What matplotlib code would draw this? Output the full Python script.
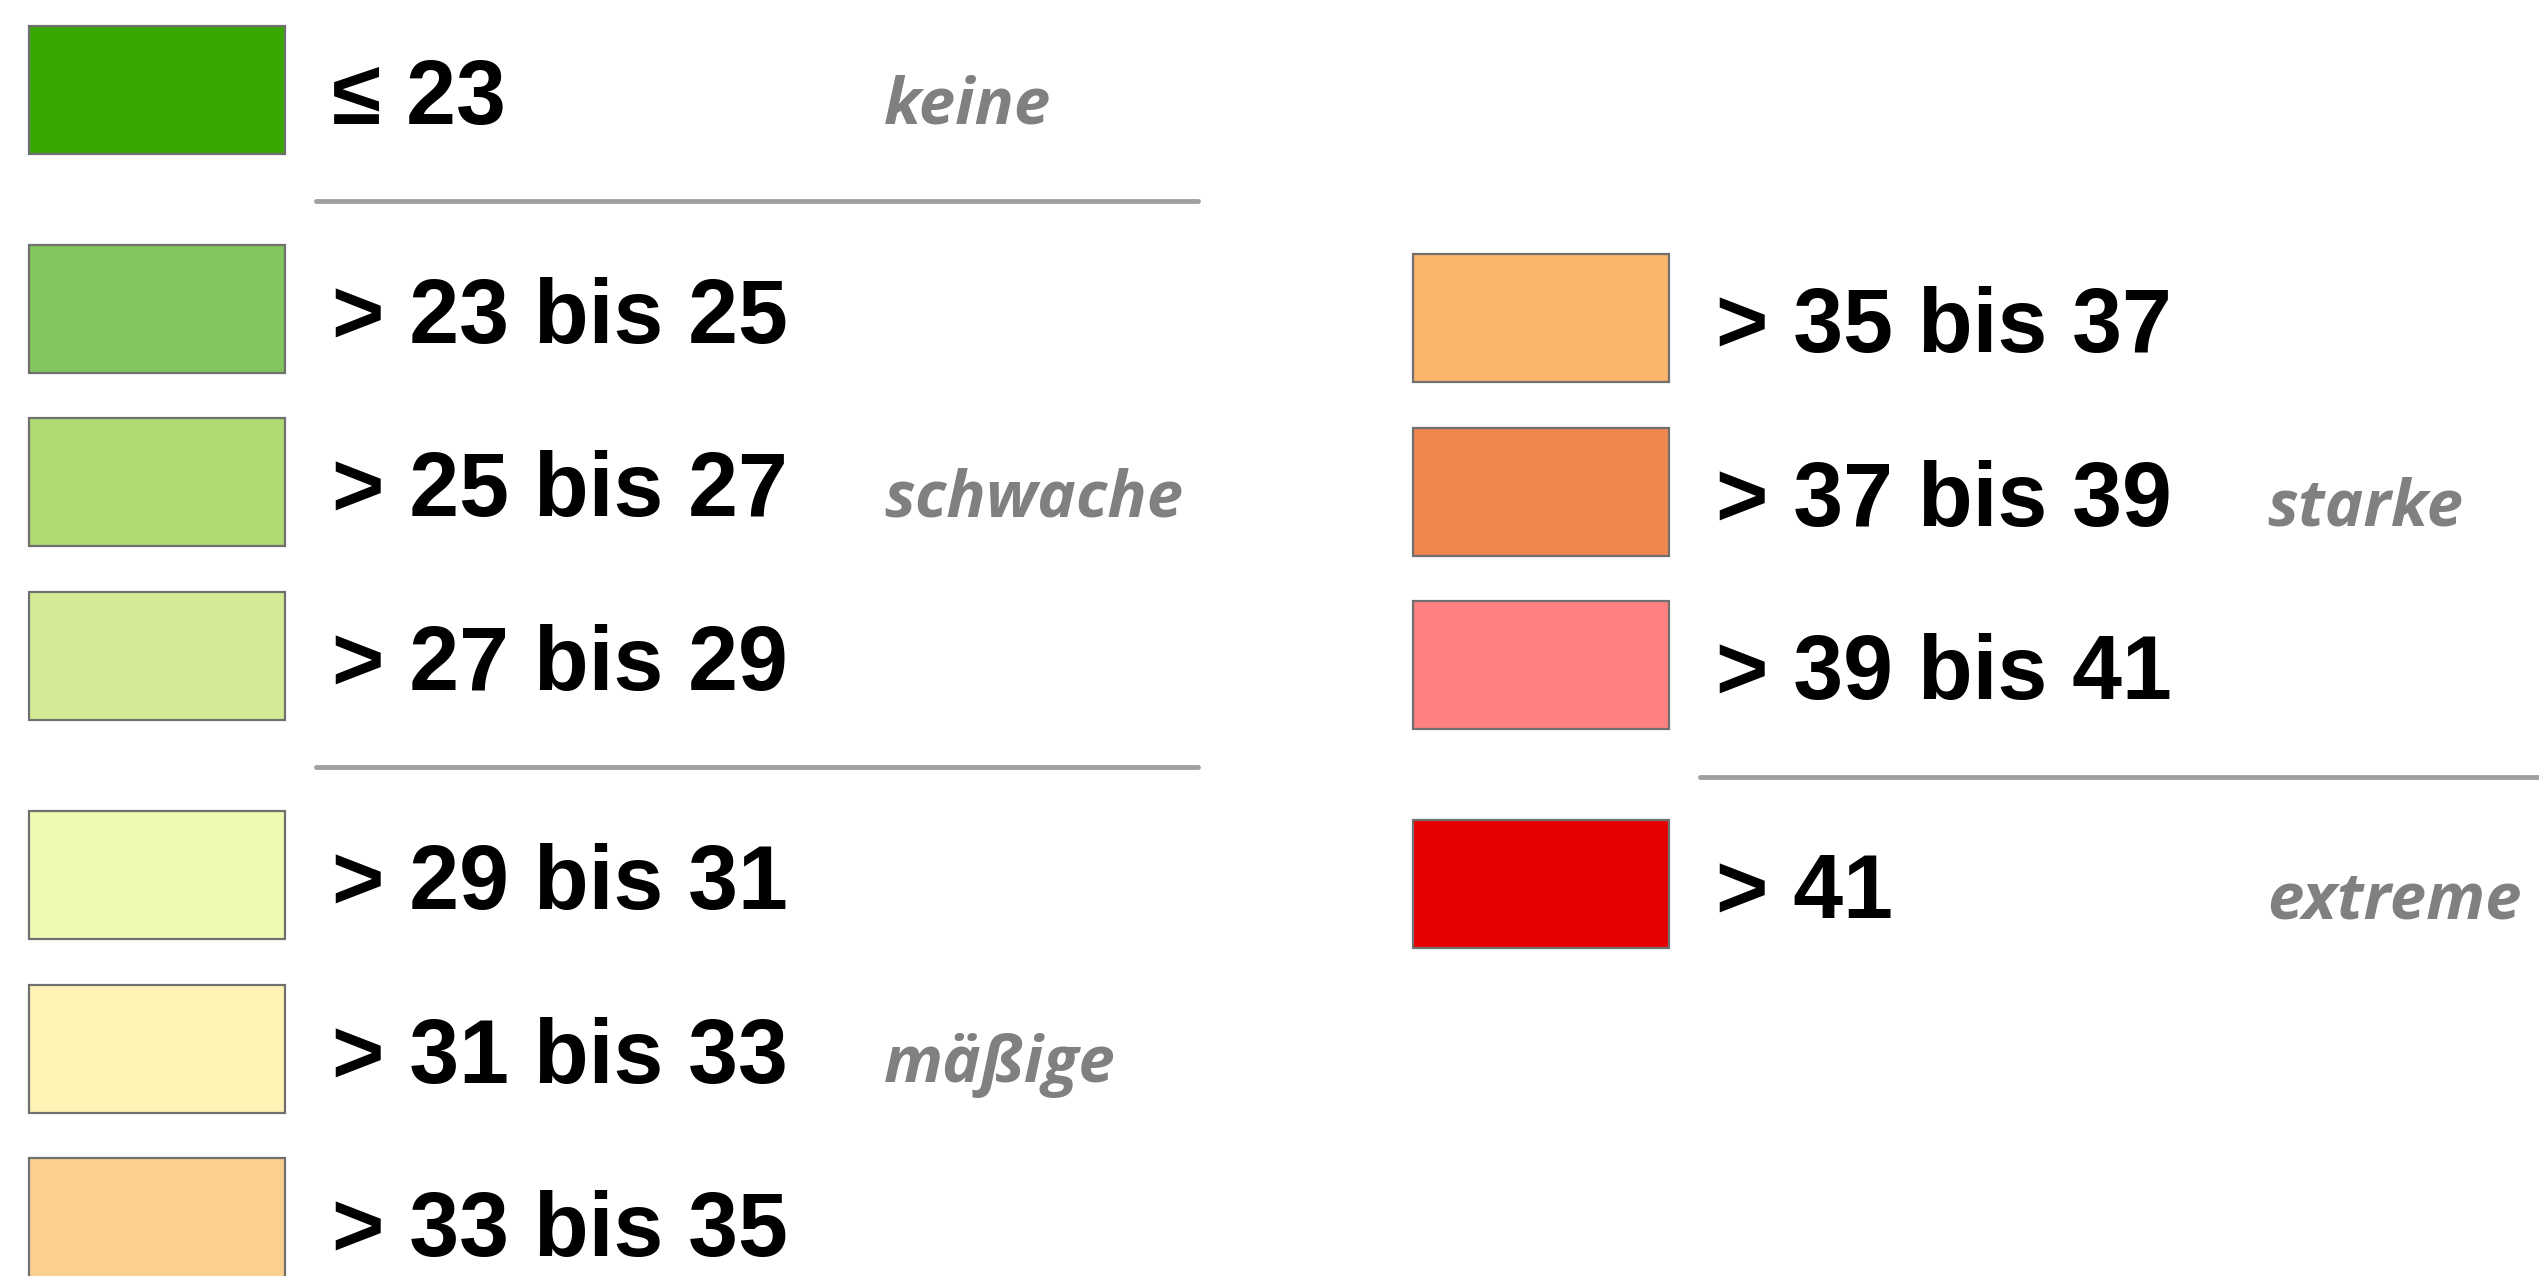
import matplotlib
matplotlib.use("Agg")
import matplotlib.pyplot as plt
from matplotlib.patches import Rectangle

# legend classes (left column, then right column)
left_labels = ["≤ 23", "> 23 bis 25", "> 25 bis 27", "> 27 bis 29",
               "> 29 bis 31", "> 31 bis 33", "> 33 bis 35"]
left_colors = ["#38a800", "#82c65e", "#b0db72", "#d3eb94",
               "#eef9b4", "#fef2b4", "#fbd08f"]
right_labels = ["> 35 bis 37", "> 37 bis 39", "> 39 bis 41", "> 41"]
right_colors = ["#fcb56c", "#f0874f", "#ff8080", "#e60000"]

# separator lines come before these row indices
left_breaks = [1, 4]
right_breaks = [3]

# group names and the row they sit on
left_groups = {0: "keine", 2: "schwache", 5: "mäßige"}
right_groups = {1: "starke", 3: "extreme"}

W, H = 2539, 1276
fig = plt.figure(figsize=(W / 100, H / 100), dpi=100)
ax = fig.add_axes([0, 0, 1, 1])
ax.set_xlim(0, W)
ax.set_ylim(H, 0)
ax.axis("off")

step = 173.7     # row pitch
gap = 45         # extra space for a separator
box_w, box_h = 256, 128


def draw_column(labels, colors, breaks, groups, x0, y0, line_x, group_x):
    y = y0
    for i, (lab, col) in enumerate(zip(labels, colors)):
        if i in breaks:
            # halfway between previous box bottom and next box top
            ly = y + (gap - step + box_h) / 2 + 2
            ax.plot(line_x, [ly, ly], color="#a0a0a0", lw=3.5,
                    solid_capstyle="round")
            y += gap
        ax.add_patch(Rectangle((x0, y), box_w, box_h, facecolor=col,
                               edgecolor="#707070", lw=1.6))
        base = y + 98
        ax.text(x0 + 303, base, lab, fontsize=64.5, fontweight="bold",
                family=["Liberation Sans", "DejaVu Sans"], va="baseline",
                ha="left", color="black")
        if i in groups:
            ax.text(group_x, base, groups[i], fontsize=47, style="italic",
                    fontweight="bold", family=["Open Sans", "DejaVu Sans"],
                    color="#808080", va="baseline", ha="left")
        y += step


draw_column(left_labels, left_colors, left_breaks, left_groups,
            29, 26, [316, 1198], 884)
draw_column(right_labels, right_colors, right_breaks, right_groups,
            1413, 254, [1700, 2545], 2267)

fig.savefig("out.png", dpi=100, facecolor="white")
